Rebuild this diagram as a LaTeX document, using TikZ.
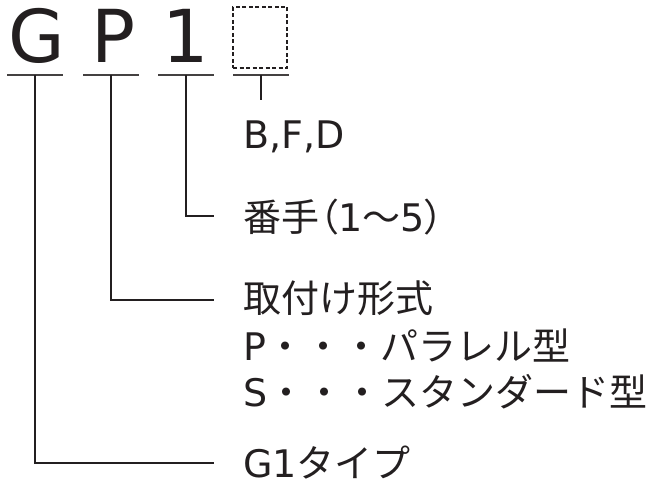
\documentclass[tikz,border=0pt]{standalone}
\usepackage{fontspec}
\setmainfont{DejaVu Sans}
\newfontfamily\jpfont{Noto Sans CJK JP}
\newfontfamily\jppalt{Noto Sans CJK JP}[RawFeature=+palt]
\definecolor{ink}{HTML}{231F20}
\begin{document}
\begin{tikzpicture}[x=1pt,y=-1pt,
  code/.style={anchor=base,inner sep=0pt,text=ink,font=\fontsize{73}{80}\selectfont},
  label/.style={anchor=base west,inner sep=0pt,text=ink,font=\fontsize{38}{47}\selectfont},
  uline/.style={draw=ink!85,line width=1.8pt},
  lead/.style={draw=ink,line width=1.2pt}]
\useasboundingbox (0,0) rectangle (654,484);
% code letters
\node (g) at (37,63) [code] {G};
\node (p) at (114,63) [code] {P};
\node (n) at (186,63) [code] {1};
\node (box) at (260,37.5) [draw=ink,dash pattern=on 4pt off 2.5pt,line width=1.4pt,
  minimum width=54pt,minimum height=61pt,inner sep=0pt] {};

% underlines
\coordinate (ug) at (35,75);
\coordinate (up) at (111,75);
\coordinate (un) at (186,75);
\coordinate (ub) at (261,75);
\foreach \u in {ug,up,un,ub}
  \draw[uline] ([xshift=-28pt]\u) -- ([xshift=28pt]\u);

% labels
\node (bfd) at (243,149) [label] {B,F,D};
\node (ban) at (243,232) [label] {{\jppalt 番手（}1{\jppalt 〜}5{\jppalt ）}};
\node (tori) at (243,312) [label] {\jpfont 取付け形式};
\node (para) at (243,360) [label] {P{\jpfont ・・・パラレル型}};
\node (std) at (243,406) [label] {S{\jpfont ・・・スタンダード型}};
\node (g1) at (243,477) [label] {G1{\jpfont タイプ}};

% leaders
\coordinate (eb) at (261,100);
\coordinate (en) at (214,216);
\coordinate (ep) at (214,300);
\coordinate (eg) at (214,463);
\draw[lead]
(ub) -- (eb)
(un) |- (en)
(up) |- (ep)
(ug) |- (eg);
\end{tikzpicture}
\end{document}
